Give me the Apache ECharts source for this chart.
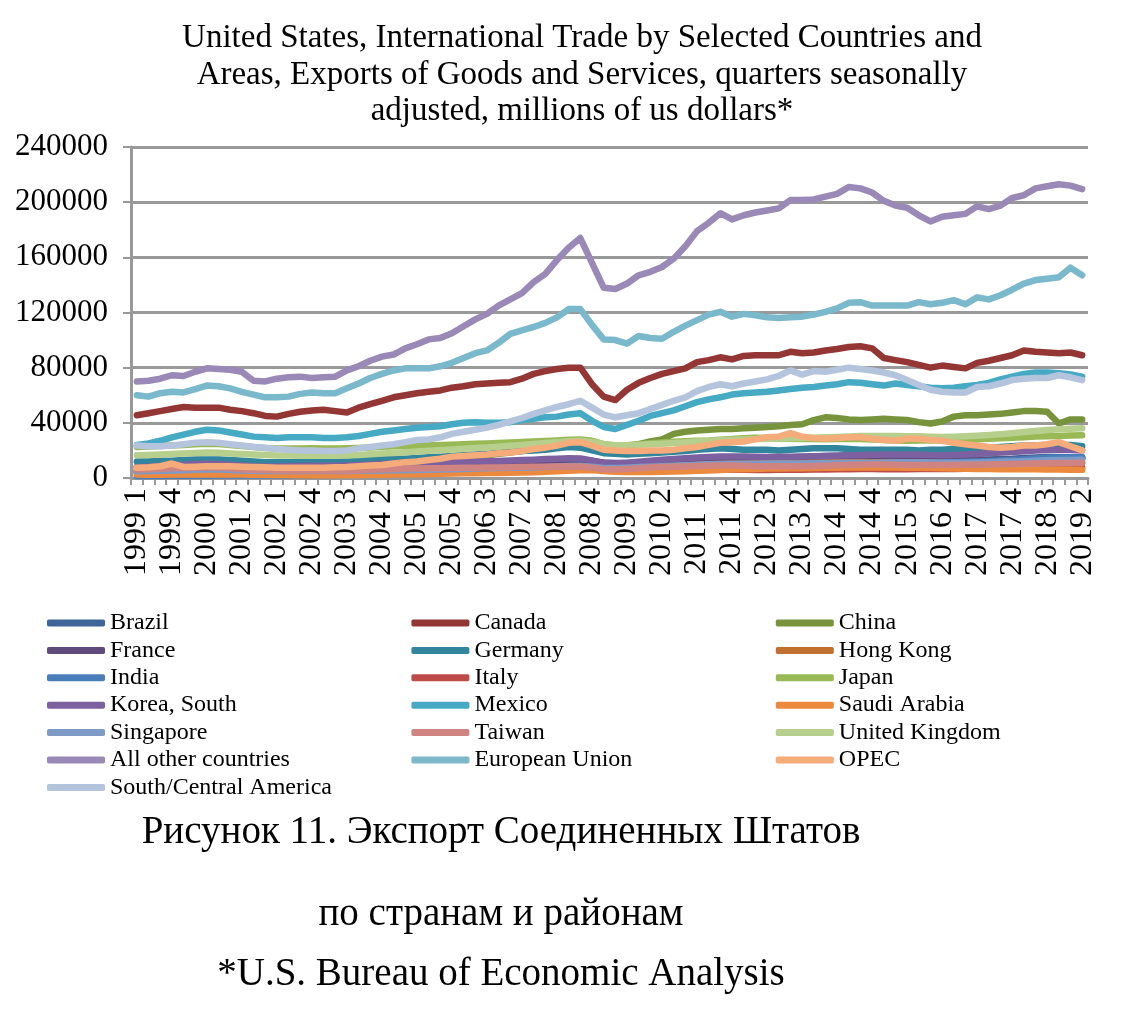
<!DOCTYPE html>
<html><head><meta charset="utf-8">
<script src="https://cdn.jsdelivr.net/npm/echarts/dist/echarts.min.js"></script>
<style>html,body{margin:0;padding:0;background:#fff}#c{width:1125px;height:1012px}</style>
</head><body><div id="c"></div><script>
const categories = [
'1999 1','1999 2','1999 3','1999 4','2000 1','2000 2','2000 3','2000 4','2001 1','2001 2','2001 3','2001 4',
'2002 1','2002 2','2002 3','2002 4','2003 1','2003 2','2003 3','2003 4','2004 1','2004 2','2004 3','2004 4',
'2005 1','2005 2','2005 3','2005 4','2006 1','2006 2','2006 3','2006 4','2007 1','2007 2','2007 3','2007 4',
'2008 1','2008 2','2008 3','2008 4','2009 1','2009 2','2009 3','2009 4','2010 1','2010 2','2010 3','2010 4',
'2011 1','2011 2','2011 3','2011 4','2012 1','2012 2','2012 3','2012 4','2013 1','2013 2','2013 3','2013 4',
'2014 1','2014 2','2014 3','2014 4','2015 1','2015 2','2015 3','2015 4','2016 1','2016 2','2016 3','2016 4',
'2017 1','2017 2','2017 3','2017 4','2018 1','2018 2','2018 3','2018 4','2019 1','2019 2'];

const yTicks = [0, 40000, 80000, 120000, 160000, 200000, 240000];

const brazil = [5200,4900,4800,5000, 5300,5500,5600,5700, 5800,5600,5300,5000, 4700,4500,4300,4200, 4200,4300,4400,4600,
 4800,5000,5200,5400, 5500,5700,5900,6100, 6300,6500,6800,7000, 7200,7600,8000,8500, 9200,10000,10800,10500,
 9000,8800,9200,10000, 11000,11800,12500,13000, 13500,14000,14500,14800, 14500,14300,14500,14800, 15000,15300,15600,16000,
 16200,16500,16300,16000, 15000,14200,13500,13200, 12800,12500,12700,13000, 13200,13500,13800,14000, 14500,14800,15200,15000, 15000,14800];
const canada = [45500,47000,48500,50000,51500,51000,51000,51000,49500,48500,
 47000,45000,44500,46500,48000,49000,49500,48500,47500,51000,
 53500,56000,58500,60000,61500,62500,63500,65500,66500,68000,
 68500,69000,69500,72000,75500,77500,79000,80000,80000,68000,
 59000,56500,64000,69000,72500,75500,77500,79500,84000,85500,
 87500,86000,88500,89000,89000,89000,91500,90500,91000,92500,
 93500,95000,95500,94000,87000,85500,84000,82000,80000,81500,
 80500,79500,83500,85000,87000,89000,92500,91500,91000,90500,
 91000,89000];
const china = [4500,4500,4800,5000,5200,5300,5500,5700,5800,6000,
 6200,6300,6500,6800,7000,7200,7800,8200,8500,9000,
 9800,10200,10500,11000,11800,12200,13000,13500,14500,15500,
 16500,17500,18500,19500,20500,21500,22500,23000,23500,22500,
 21500,22000,23000,24500,26500,28000,32000,33500,34500,35000,
 35500,35500,36000,36500,37000,37500,38500,39000,42000,44000,
 43500,42500,42000,42500,43000,42500,42000,40500,39500,41000,
 44500,45500,45500,46000,46500,47500,48500,48500,48000,39500,
 42500,42500];
const france = [7800,7900,8000,8200, 8600,9000,9200,9300, 9000,8700,8400,8000, 7900,7900,8000,8000, 7800,7900,8000,8200,
 8300,8500,8600,8800, 8800,9000,9100,9300, 9400,9600,9800,10200, 10500,10900,11300,11700, 12200,12600,12800,12300,
 11200,10800,10900,11000, 11200,11400,11700,12000, 12300,12600,12800,12700, 12500,12400,12400,12500, 12400,12500,12600,12700,
 12900,13000,13100,12900, 12600,12500,12400,12500, 12400,12500,12600,12600, 12600,12800,13000,13300, 13700,14000,14200,14300, 14400,14500];
const germany = [12000,12000,12500,12500,13000,13500,13500,13500,13000,12500,
 12000,11500,11500,11500,11500,11500,11500,12000,12000,12500,
 13000,13500,14000,14000,14500,15000,15500,16000,16500,17000,
 17500,18500,19000,19500,20000,20500,21500,22500,22000,20000,
 18000,17500,17000,17500,18000,18500,19000,19500,20500,21000,
 21500,21000,20500,20500,20500,20000,20500,21000,21500,21500,
 21500,21000,20500,20500,20500,20500,20500,20000,20500,20500,
 21000,21000,21500,22000,22500,23000,23500,23500,24000,24000,
 24000,23000];
const hongKong = [3800,3900,4000,4200, 4400,4500,4600,4600, 4400,4200,4000,3900, 3800,3800,3800,3900, 3900,4000,4100,4300,
 4400,4500,4700,4800, 4900,5000,5100,5200, 5400,5500,5700,5900, 6200,6400,6700,7000, 7300,7600,7700,7200,
 6600,6800,7100,7500, 8000,8400,8700,9100, 9500,9900,10200,10300, 10400,10500,10600,10800, 10900,11000,11200,11300,
 11400,11500,11600,11500, 11500,11400,11300,11200, 11000,10900,11000,11200, 11400,11500,11700,11900, 12000,12200,12100,11600, 11200,10900];
const india = [1400,1450,1500,1550, 1600,1650,1700,1750, 1750,1800,1800,1800, 1850,1900,1950,2000, 2100,2200,2350,2500,
 2700,2900,3100,3300, 3500,3700,3900,4200, 4500,4800,5200,5600, 6000,6300,6600,6900, 7200,7500,7700,7500,
 7000,6900,7000,7300, 7600,7900,8200,8500, 8800,9100,9300,9400, 9400,9500,9500,9600, 9600,9700,9800,9900,
 10000,10100,10300,10400, 10500,10600,10700,10900, 11000,11200,11400,11700, 12000,12300,12700,13100, 13600,14200,14600,14900, 15000,15100];
const italy = [4300,4400,4500,4600, 4800,5000,5100,5100, 5000,4800,4600,4500, 4400,4400,4400,4500, 4400,4500,4500,4600,
 4700,4800,4900,5000, 5000,5100,5200,5300, 5400,5500,5600,5700, 5800,6000,6200,6400, 6600,6700,6700,6300,
 5700,5400,5300,5300, 5300,5400,5500,5600, 5800,5900,6000,6000, 5900,5800,5800,5900, 5900,6000,6100,6200,
 6300,6400,6500,6500, 6400,6400,6400,6500, 6500,6500,6600,6700, 6800,6900,7000,7200, 7300,7500,7600,7600, 7600,7500];
const japan = [22500,22800,23200,23600, 24000,24500,24800,24600, 24000,23200,22500,21800, 21400,21300,21400,21500, 21400,21300,21500,21800,
 22200,22600,23000,23200, 23400,23700,24000,24200, 24500,24800,25100,25400, 25700,26100,26500,26800, 27200,27700,28000,27000,
 24500,23500,23800,24500, 25200,25800,26300,26700, 27000,27200,27800,28300, 28800,29200,29000,28700, 28500,28300,28200,28100,
 28200,28400,28300,28000, 27500,27200,27000,27100, 27200,27400,27600,27800, 28100,28400,28800,29200, 29600,30000,30300,30500, 30800,31000];
const korea = [7800,8200,8700,9200, 9700,10100,10300,10200, 9600,9000,8500,8300, 8400,8600,8700,8800, 8800,8900,9100,9400,
 9800,10200,10500,10700, 10800,11000,11100,11300, 11500,11800,12100,12400, 12700,13000,13300,13700, 14000,14300,14200,12800,
 10800,10500,11000,11800, 12600,13300,13800,14300, 14800,15200,15500,15600, 15500,15400,15300,15400, 15400,15500,15700,15900,
 16200,16500,16700,16800, 16800,16900,17000,16900, 16600,16500,16700,17000, 17400,17900,18400,18900, 19400,19900,20300,20500, 20300,20000];
const mexico = [24000,25000,27000,29500,31500,33500,35000,34500,33000,31500,
 30000,29500,29000,29500,29500,29500,29000,29000,29500,30500,
 32000,33500,34500,35500,36500,37000,37500,39000,40000,40500,
 40000,40000,40500,42000,43000,44000,44500,46000,47000,41500,
 37000,35500,38500,41500,45000,47000,49000,52000,55000,57000,
 58500,60500,61500,62000,62500,63500,64500,65500,66000,67000,
 68000,69500,69000,68000,67000,68500,67500,66500,65500,65000,
 65500,66500,67500,69000,71500,73500,75500,76500,76500,76000,
 75000,73500];
const saudiArabia = [2500,2400,2400,2500, 2500,2600,2600,2500, 2500,2500,2400,2300, 2200,2100,2000,2000, 2000,2000,2100,2200,
 2300,2400,2500,2700, 2800,2900,3100,3200, 3400,3500,3600,3700, 3800,4000,4200,4500, 4900,5300,5700,5800,
 5000,4600,4400,4400, 4400,4500,4700,4900, 5200,5500,5800,6100, 6400,6600,6800,6900, 7000,7100,7200,7400,
 7500,7600,7700,7700, 7700,7600,7500,7400, 7200,7000,6900,6700, 6600,6500,6400,6400, 6300,6300,6200,6100, 6000,5900];
const singapore = [4900,5000,5200,5400, 5700,6000,6200,6100, 5800,5500,5200,5000, 5000,5000,5000,5100, 5000,5000,5100,5200,
 5300,5500,5600,5700, 5800,6000,6100,6300, 6600,6900,7100,7300, 7400,7500,7700,8000, 8300,8700,8800,8200,
 7300,7200,7500,7900, 8200,8500,8800,9200, 9600,10000,10200,10300, 10300,10400,10500,10500, 10500,10600,10700,10800,
 10900,11000,11100,11100, 11300,11400,11500,11500, 11200,11000,11000,11100, 11300,11500,11700,11900, 12200,12500,12800,13000, 13100,13200];
const taiwan = [6200,6400,6700,7000, 7300,7500,7700,7600, 7000,6400,6000,5800, 5600,5500,5500,5500, 5400,5400,5500,5700,
 6000,6300,6600,6800, 6900,7000,7100,7200, 7400,7500,7600,7700, 7800,7900,8100,8200, 8300,8400,8300,7500,
 6300,6200,6600,7100, 7600,8000,8200,8400, 8700,8900,9100,9100, 8800,8600,8500,8500, 8500,8600,8700,8900,
 9200,9400,9600,9700, 9700,9600,9500,9500, 9400,9400,9500,9600, 9600,9700,9900,10100, 10300,10500,10700,10800, 10900,11000];
const unitedKingdom = [16500,16700,17000,17400, 17800,18200,18500,18300, 17800,17400,17000,16700, 16400,16300,16200,16200, 16100,16200,16400,16700,
 17200,17700,18200,18700, 19200,19700,20200,20700, 21200,21700,22200,22700, 23300,24000,24700,25400, 26000,26700,27000,26200,
 24500,23800,23700,24000, 24400,24800,25300,25800, 26400,27000,27500,27800, 28000,28200,28400,28600, 28800,29000,29200,29500,
 29800,30100,30400,30500, 30500,30400,30300,30200, 30000,29800,30000,30300, 30700,31200,31800,32500, 33300,34100,34800,35300, 35700,36000];
const allOther = [70000,70500,72000,74500,74000,77000,79500,79000,78500,77000,
 70500,70000,72000,73000,73500,72500,73000,73500,78000,81000,
 85000,88000,89500,94000,97000,100500,101500,105000,110000,115000,
 119000,125000,129500,134000,142000,148000,158000,167000,174000,156000,
 138000,137000,141000,147000,149500,153000,159000,168000,179000,185000,
 192000,187500,190500,192500,194000,195500,201500,201500,202000,204000,
 206000,211000,210000,207000,201000,197500,196000,190500,186000,189500,
 190500,191500,197000,195000,197500,203000,205000,210000,211500,213000,
 212000,209500];
const europeanUnion = [60000,59000,61500,62500,62000,64500,67000,66500,65000,62500,
 60500,58500,58500,59000,61000,62000,61500,61500,65000,68500,
 72500,75500,78000,79500,79500,79500,81000,83500,87000,90500,
 92500,98000,104500,107000,109500,112500,116500,122500,122500,111000,
 100500,100000,97500,103000,101500,101000,106000,110500,114500,118500,
 120500,117000,119000,118000,116500,116000,116500,117000,118500,120500,
 123000,127000,127500,125000,125000,125000,125000,127500,126000,127000,
 129000,126000,131000,129500,132500,136500,141000,143500,144500,145500,
 152500,147000];
const opec = [7500,7800,8500,10500,8000,8200,8500,8500,8500,8200,
 8000,7800,7500,7500,7500,7500,7500,7800,8000,8500,
 9000,9500,10500,11500,12000,13000,14000,15500,16000,16500,
 17000,18000,18500,19500,21000,22000,23500,25500,26000,23500,
 20500,20000,19500,19500,20000,20000,20500,21500,22500,24000,
 25500,26000,26500,28000,29500,30000,32500,30000,29000,28500,
 29000,29500,29500,28500,27500,27000,28500,28500,27500,27000,
 25500,24500,23500,22500,22000,22500,23500,23500,24500,26000,
 23000,20000];
const southCentralAmerica = [23500,23000,23000,23500,24500,25500,26000,25500,24500,23500,
 22500,22000,21000,20500,20000,20000,19500,19500,20000,21500,
 22500,23500,24500,26000,27500,28000,29500,32000,33500,35000,
 36500,38500,41000,43500,46500,49000,51500,53500,56000,51000,
 46000,44000,45500,47000,50000,53000,56000,58500,63000,66000,
 68000,66500,68500,70000,71500,74000,78000,75000,77500,77000,
 78500,80000,79000,78000,76500,74500,71000,67500,64000,62500,
 62000,62000,66000,66500,68500,71000,72000,72500,72500,74500,
 73000,71000];

const seriesNames = ['Brazil','Canada','China','France','Germany','Hong Kong','India','Italy','Japan','Korea, South',
 'Mexico','Saudi Arabia','Singapore','Taiwan','United Kingdom','All other countries','European Union','OPEC','South/Central America'];
const seriesData = [brazil,canada,china,france,germany,hongKong,india,italy,japan,korea,
 mexico,saudiArabia,singapore,taiwan,unitedKingdom,allOther,europeanUnion,opec,southCentralAmerica];
const seriesColors = ['#3D6597','#943634','#77933C','#604A7B','#31859C','#C0712F','#4A7EBB','#BE4B48','#98B954','#7D60A0',
 '#46AAC5','#EB8A3E','#7E9BC8','#D08481','#B7CF8C','#9A88B6','#7AB8CC','#F6AB7B','#B4C4DD'];

const titleLines = ['United States, International Trade by Selected Countries and',
 'Areas, Exports of Goods and Services, quarters seasonally',
 'adjusted, millions of us dollars*'];
const captionLines = ['Рисунок 11. Экспорт Соединенных Штатов', 'по странам и районам', '*U.S. Bureau of Economic Analysis'];

const FONT = '"Liberation Serif", "Times New Roman", serif';
const chart = echarts.init(document.getElementById('c'), null, {renderer: 'canvas'});

const titleY = [38, 75, 111];
const captionY = [833, 915, 975];
const graphics = [];
titleLines.forEach((t, k) => graphics.push({type: 'text', x: 582, y: titleY[k],
  style: {text: t, fill: '#000', font: '33px ' + FONT, textAlign: 'center', textVerticalAlign: 'middle'}}));
captionLines.forEach((t, k) => graphics.push({type: 'text', x: 501, y: captionY[k],
  style: {text: t, fill: '#000', font: '39px ' + FONT, textAlign: 'center', textVerticalAlign: 'middle'}}));

chart.setOption({
  animation: false,
  backgroundColor: '#fff',
  graphic: graphics,
  grid: {left: 131, right: 37, top: 147, bottom: 534, containLabel: false},
  legend: {
    left: 42, top: 606, width: 1100, orient: 'horizontal',
    itemWidth: 58, itemHeight: 7, itemGap: 3.4, icon: 'roundRect',
    textStyle: {fontFamily: FONT, fontSize: 24, color: '#000', width: 298, lineHeight: 24},
    data: seriesNames
  },
  xAxis: {
    type: 'category', data: categories, boundaryGap: true,
    axisLine: {lineStyle: {color: '#999', width: 3}},
    axisTick: {show: true, interval: 0, length: 7, lineStyle: {color: '#999', width: 2}},
    axisLabel: {interval: 2, rotate: 90, margin: 10, fontFamily: FONT, fontSize: 32, color: '#000'},
    splitLine: {show: false}
  },
  yAxis: {
    type: 'value', min: yTicks[0], max: yTicks[yTicks.length - 1], interval: 40000,
    axisLine: {show: true, lineStyle: {color: '#999', width: 3}},
    axisTick: {show: true, length: 8, lineStyle: {color: '#999', width: 2}},
    axisLabel: {margin: 23, fontFamily: FONT, fontSize: 31, color: '#000', formatter: v => String(v)},
    splitLine: {lineStyle: {color: '#999', width: 3}}
  },
  series: seriesNames.map((n, k) => ({
    name: n, type: 'line', data: seriesData[k], symbol: 'none', showSymbol: false,
    color: seriesColors[k],
    lineStyle: {width: 6.5, color: seriesColors[k], join: 'round', cap: 'round'}
  }))
});
</script></body></html>
